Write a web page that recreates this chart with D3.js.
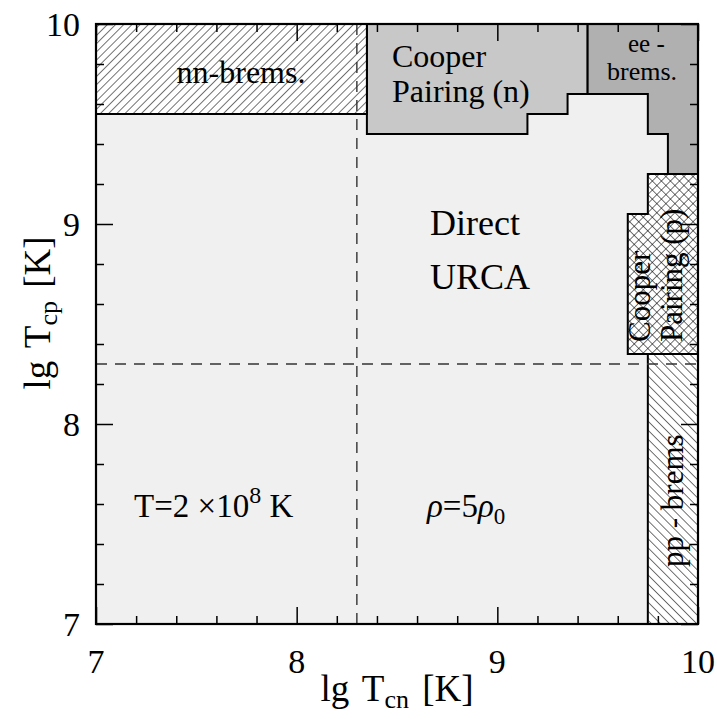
<!DOCTYPE html>
<html><head><meta charset="utf-8">
<script src="https://cdn.jsdelivr.net/npm/d3@7"></script>
<style>body{margin:0;background:#fff}svg{display:block}text{font-family:"Liberation Serif","DejaVu Serif",serif;fill:#000}</style>
</head><body>
<svg id="c" width="717" height="719"></svg>
<script>
// ---- data (log10 temperatures) ----
const xDomain = [7, 10];
const yDomain = [7, 10];
const majorTicks = [7, 8, 9, 10];
const minorTicks = [7.2,7.4,7.6,7.8,8.2,8.4,8.6,8.8,9.2,9.4,9.6,9.8];
const tickLabels = ["7", "8", "9", "10"];
const nnBrems = [[7,10],[8.35,10],[8.35,9.55],[7,9.55]];
const cooperN = [[8.35,10],[8.35,9.45],[9.15,9.45],[9.15,9.55],[9.35,9.55],[9.35,9.65],[9.45,9.65],[9.45,10]];
const eeBrems = [[9.45,10],[9.45,9.65],[9.75,9.65],[9.75,9.45],[9.85,9.45],[9.85,9.25],[10,9.25],[10,10]];
const cooperP = [[9.75,9.25],[10,9.25],[10,8.35],[9.65,8.35],[9.65,9.05],[9.75,9.05]];
const ppBrems = [[9.75,8.35],[10,8.35],[10,7],[9.75,7]];
const dashX = 8.3;
const dashY = 8.3;

const svg = d3.select("#c");
const x = d3.scaleLinear().domain(xDomain).range([96, 698]);
const y = d3.scaleLinear().domain(yDomain).range([624, 24]);

const defs = svg.append("defs");
function hatch(id, angles, sp) {
  angles.forEach((a, i) => {
    const p = defs.append("pattern").attr("id", id + i).attr("patternUnits", "userSpaceOnUse")
      .attr("width", sp).attr("height", sp).attr("patternTransform", `rotate(${a})`);
    p.append("line").attr("x1", 0).attr("y1", -1).attr("x2", 0).attr("y2", sp + 1)
      .attr("stroke", "#000").attr("stroke-width", 1.1);
  });
}
hatch("nn", [45], 5.8);
hatch("pp", [-45], 6.4);
hatch("cx", [45, -45], 6.4);

const line = d3.line().x(d => x(d[0])).y(d => y(d[1]));
const poly = pts => line(pts) + "Z";

// background (Direct URCA)
svg.append("rect").attr("x", x(7)).attr("y", y(10)).attr("width", x(10) - x(7)).attr("height", y(7) - y(10)).attr("fill", "#f0f0f0");

// solid regions
svg.append("path").attr("d", poly(cooperN)).attr("fill", "#c8c8c8").attr("stroke", "#000").attr("stroke-width", 2);
svg.append("path").attr("d", poly(eeBrems)).attr("fill", "#b0b0b0").attr("stroke", "#000").attr("stroke-width", 2);
// white bases of hatched regions
[nnBrems, cooperP, ppBrems].forEach(r => svg.append("path").attr("d", poly(r)).attr("fill", "#fff"));

// texts
function txt(s, px, py, size, anchor, rot) {
  const t = svg.append("text").attr("font-size", size).attr("text-anchor", anchor || "start");
  if (rot) t.attr("transform", `translate(${px},${py}) rotate(${rot})`);
  else t.attr("x", px).attr("y", py);
  t.text(s);
  return t;
}
txt("nn-brems.", 241, 83, 32, "middle");
txt("Cooper", 392, 67, 32);
txt("Pairing (n)", 392, 102, 32);
txt("ee -", 628, 52, 25);
txt("brems.", 607, 80, 26);
txt("Direct", 430, 235, 36);
txt("URCA", 430, 289, 36);
txt("Cooper", 650, 342, 31, "start", -90);
txt("Pairing (p)", 682, 342, 31, "start", -90);
txt("pp - brems", 683, 567, 31, "start", -90);

const tt = svg.append("text").attr("x", 134).attr("y", 517).attr("font-size", 33);
tt.append("tspan").text("T=2 \u00d710");
tt.append("tspan").attr("dy", -14).attr("font-size", 24).text("8");
tt.append("tspan").attr("dy", 14).text(" K");
const rt = svg.append("text").attr("x", 427).attr("y", 517).attr("font-size", 33).attr("font-style", "italic");
rt.append("tspan").text("\u03c1");
rt.append("tspan").attr("font-style", "normal").text("=5");
rt.append("tspan").text("\u03c1");
rt.append("tspan").attr("font-style", "normal").attr("dy", 7).attr("font-size", 23).text("0");

// hatch overlays
svg.append("path").attr("d", poly(nnBrems)).attr("fill", "url(#nn0)").attr("stroke", "#000").attr("stroke-width", 2);
svg.append("path").attr("d", poly(cooperP)).attr("fill", "url(#cx0)");
svg.append("path").attr("d", poly(cooperP)).attr("fill", "url(#cx1)").attr("stroke", "#000").attr("stroke-width", 2);
svg.append("path").attr("d", poly(ppBrems)).attr("fill", "url(#pp0)").attr("stroke", "#000").attr("stroke-width", 2);

// dashed lines
svg.append("line").attr("x1", x(dashX)).attr("x2", x(dashX)).attr("y1", y(10)).attr("y2", y(7))
  .attr("stroke", "#333").attr("stroke-width", 1.4).attr("stroke-dasharray", "11,8");
svg.append("line").attr("x1", x(7)).attr("x2", x(10)).attr("y1", y(dashY)).attr("y2", y(dashY))
  .attr("stroke", "#333").attr("stroke-width", 1.4).attr("stroke-dasharray", "11,8");

// axes: ticks inward on all four sides
const g = svg.append("g");
function axes(ticks, size) {
  g.append("g").attr("transform", `translate(0,${y(7)})`).call(d3.axisBottom(x).tickValues(ticks).tickSize(-size).tickFormat(""));
  g.append("g").attr("transform", `translate(0,${y(10)})`).call(d3.axisTop(x).tickValues(ticks).tickSize(-size).tickFormat(""));
  g.append("g").attr("transform", `translate(${x(7)},0)`).call(d3.axisLeft(y).tickValues(ticks).tickSize(-size).tickFormat(""));
  g.append("g").attr("transform", `translate(${x(10)},0)`).call(d3.axisRight(y).tickValues(ticks).tickSize(-size).tickFormat(""));
}
axes(majorTicks, 17);
axes(minorTicks, 8);
g.selectAll(".domain").remove();
g.selectAll("line").attr("stroke", "#000").attr("stroke-width", 1.5);

svg.append("rect").attr("x", x(7)).attr("y", y(10)).attr("width", x(10) - x(7)).attr("height", y(7) - y(10))
  .attr("fill", "none").attr("stroke", "#000").attr("stroke-width", 2.2);

// tick labels
majorTicks.forEach((v, i) => {
  svg.append("text").attr("x", x(v)).attr("y", 673).attr("text-anchor", "middle").attr("font-size", 34).text(tickLabels[i]);
  svg.append("text").attr("x", 80).attr("y", y(v) + 12).attr("text-anchor", "end").attr("font-size", 34).text(tickLabels[i]);
});

// axis titles
const xt = svg.append("text").attr("x", 397).attr("y", 701).attr("text-anchor", "middle").attr("font-size", 37).attr("word-spacing", 4);
xt.append("tspan").text("lg T");
xt.append("tspan").attr("dy", 7).attr("font-size", 26).text("cn");
xt.append("tspan").attr("dy", -7).text(" [K]");
const yt = svg.append("text").attr("transform", "translate(50,313) rotate(-90)").attr("text-anchor", "middle").attr("font-size", 37).attr("word-spacing", 4);
yt.append("tspan").text("lg T");
yt.append("tspan").attr("dy", 7).attr("font-size", 26).text("cp");
yt.append("tspan").attr("dy", -7).text(" [K]");
</script>
</body></html>
